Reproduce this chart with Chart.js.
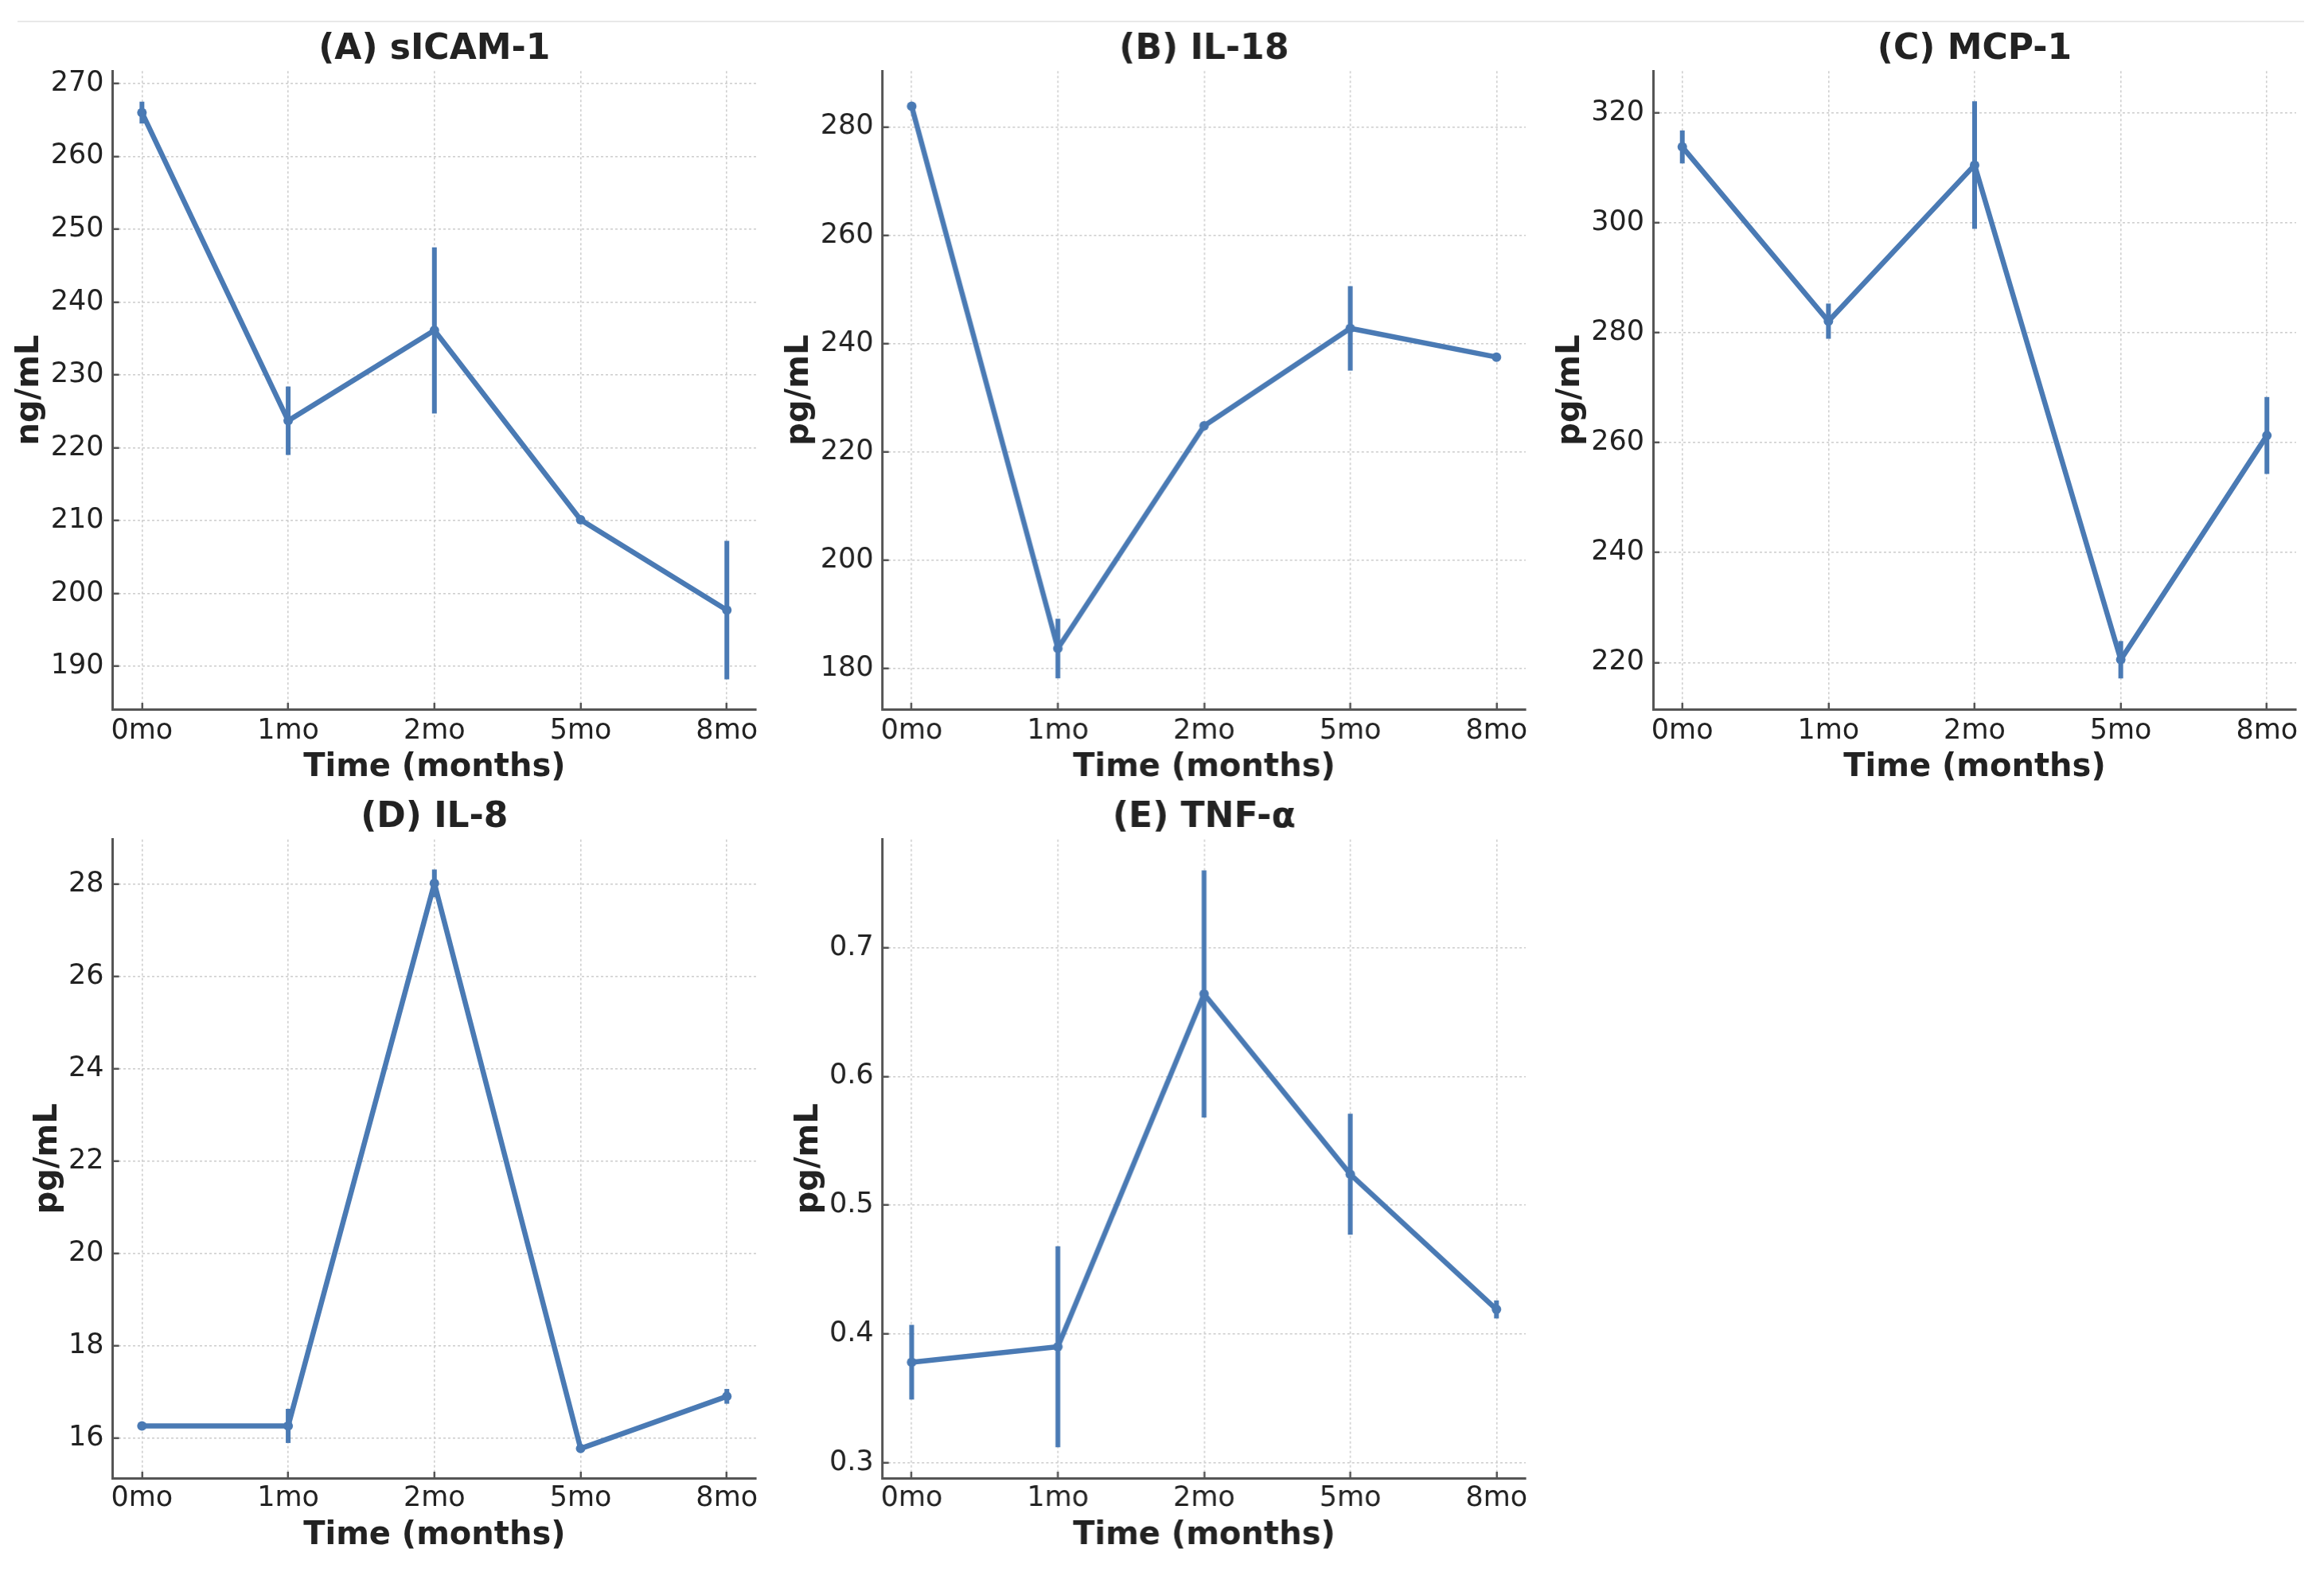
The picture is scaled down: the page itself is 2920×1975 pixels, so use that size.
<!DOCTYPE html>
<html><head><meta charset="utf-8">
<script src="https://cdn.jsdelivr.net/npm/chart.js@4.4.1/dist/chart.umd.min.js"></script>
<style>
html,body{margin:0;padding:0;background:#fff;width:2920px;height:1975px;overflow:hidden;position:relative}
canvas{position:absolute}
#rule{position:absolute;left:22px;top:26px;width:2873px;height:2px;background:#e8e8e8}
</style></head><body>
<div id="rule"></div>
<script>
// ---------- data ----------
const categories = ['0mo', '1mo', '2mo', '5mo', '8mo'];
const xAxisTitle = 'Time (months)';
const panelTitles = ['(A) sICAM-1', '(B) IL-18', '(C) MCP-1', '(D) IL-8', '(E) TNF-α'];
const yAxisTitles = ['ng/mL', 'pg/mL', 'pg/mL', 'pg/mL', 'pg/mL'];

const sicam1Mean = [266.0, 223.7, 236.1, 210.1, 197.7];
const sicam1Err  = [1.5, 4.7, 11.4, 0.3, 9.5];
const il18Mean   = [283.8, 183.7, 224.8, 242.8, 237.5];
const il18Err    = [0.5, 5.5, 0.5, 7.8, 0.5];
const mcp1Mean   = [313.8, 282.1, 310.5, 220.5, 261.3];
const mcp1Err    = [3.0, 3.2, 11.6, 3.4, 7.0];
const il8Mean    = [16.27, 16.27, 28.02, 15.78, 16.91];
const il8Err     = [0.08, 0.37, 0.30, 0.07, 0.16];
const tnfMean    = [0.378, 0.390, 0.664, 0.524, 0.419];
const tnfErr     = [0.029, 0.078, 0.096, 0.047, 0.007];

const sicam1Ticks = [190, 200, 210, 220, 230, 240, 250, 260, 270];
const il18Ticks   = [180, 200, 220, 240, 260, 280];
const mcp1Ticks   = [220, 240, 260, 280, 300, 320];
const il8Ticks    = [16, 18, 20, 22, 24, 26, 28];
const tnfTicks    = [0.3, 0.4, 0.5, 0.6, 0.7];

const yMins = [184.1, 172.5, 211.5, 15.14, 0.288];
const yMaxs = [271.7, 290.3, 327.6, 28.97, 0.784];
const xMin = -0.2, xMax = 4.2;

// ---------- styling / layout ----------
const LINE = '#4a7ab4';
const TEXT = '#222';
const FONT = "'DejaVu Sans', sans-serif";
const rows = [
  {top: 0,   h: 990, chartT: 89.3,   chartB: 891,  titleC: 64.5, xTickC: 918.5,  xTitleC: 965},
  {top: 990, h: 985, chartT: 1054.7, chartB: 1857, titleC: 1027.5, xTickC: 1882.6, xTitleC: 1929.5}
];
const panels = [
  {row: 0, cx0: 0,    chartL: 141.6,  chartR: 950,    yTitleC: 38,     means: sicam1Mean, errs: sicam1Err, ticks: sicam1Ticks},
  {row: 0, cx0: 960,  chartL: 1108.6, chartR: 1916.6, yTitleC: 1004.6, means: il18Mean,   errs: il18Err,   ticks: il18Ticks},
  {row: 0, cx0: 1920, chartL: 2077,   chartR: 2885,   yTitleC: 1974,   means: mcp1Mean,   errs: mcp1Err,   ticks: mcp1Ticks},
  {row: 1, cx0: 0,    chartL: 141.6,  chartR: 950,    yTitleC: 60.6,   means: il8Mean,    errs: il8Err,    ticks: il8Ticks},
  {row: 1, cx0: 960,  chartL: 1108.6, chartR: 1916.6, yTitleC: 1017,   means: tnfMean,    errs: tnfErr,    ticks: tnfTicks}
];

const TITLE_SIZE = 44, LABEL_SIZE = 40, TICK_SIZE = 35, LH = 1.2;

const errorBarPlugin = {
  id: 'errorBars',
  afterDatasetsDraw(chart) {
    const {ctx, scales: {x, y}} = chart;
    const ds = chart.data.datasets[0];
    ctx.save();
    ctx.strokeStyle = LINE;
    ctx.lineWidth = 6;
    ctx.lineCap = 'butt';
    ds.data.forEach((p, i) => {
      const e = ds.errors[i];
      const px = x.getPixelForValue(p.x);
      ctx.beginPath();
      ctx.moveTo(px, y.getPixelForValue(p.y - e));
      ctx.lineTo(px, y.getPixelForValue(p.y + e));
      ctx.stroke();
    });
    ctx.restore();
  }
};

panels.forEach((p, k) => {
  const r = rows[p.row];
  const width = Math.min(p.chartR + 50, 2920) - p.cx0;
  const cv = document.createElement('canvas');
  cv.width = width; cv.height = r.h;
  cv.style.left = p.cx0 + 'px'; cv.style.top = r.top + 'px';
  cv.style.width = width + 'px'; cv.style.height = r.h + 'px';
  document.body.appendChild(cv);

  const yAxisW = p.chartL - p.cx0;
  const padRight = p.cx0 + width - p.chartR;
  const titleH = r.chartT - r.top;
  const tlh = TITLE_SIZE * LH;
  let tTop = r.titleC - r.top - tlh / 2;
  let tBot = titleH - tlh - tTop;
  if (tBot < 0) { tBot = 0; tTop = titleH - tlh; }
  const xAxisH = r.top + r.h - r.chartB;
  const xTickPad = r.xTickC - r.chartB + 8 - TICK_SIZE * LH / 2;
  const xTitlePadB = r.top + r.h - r.xTitleC - LABEL_SIZE * LH / 2;
  const yTitlePadT = p.yTitleC - p.cx0 - LABEL_SIZE * LH / 2;

  const gridCommon = {
    color: '#cfcfcf', lineWidth: 1.6, drawTicks: true, tickLength: -8,
    tickColor: '#555', tickWidth: 2.5, tickBorderDash: []
  };
  const borderCommon = {display: true, color: '#555', width: 3, dash: [3, 3]};

  new Chart(cv, {
    type: 'line',
    data: {
      datasets: [{
        data: p.means.map((v, i) => ({x: i, y: v})),
        errors: p.errs,
        borderColor: LINE, backgroundColor: LINE,
        borderWidth: 6.5, pointRadius: 6, pointBorderWidth: 0,
        pointBackgroundColor: LINE, tension: 0, fill: false
      }]
    },
    options: {
      responsive: false, animation: false, devicePixelRatio: 1,
      layout: {padding: {left: 0, right: padRight, top: 0, bottom: 0}},
      plugins: {
        legend: {display: false}, tooltip: {enabled: false},
        title: {
          display: true, text: panelTitles[k], fullSize: false, color: TEXT,
          font: {family: FONT, size: TITLE_SIZE, weight: 'bold', lineHeight: LH},
          padding: {top: tTop, bottom: tBot}
        }
      },
      scales: {
        x: {
          type: 'linear', min: xMin, max: xMax,
          afterBuildTicks: s => { s.ticks = categories.map((c, i) => ({value: i})); },
          afterFit: s => { s.height = xAxisH; },
          ticks: {
            autoSkip: false, maxRotation: 0, padding: xTickPad, color: TEXT,
            font: {family: FONT, size: TICK_SIZE, lineHeight: LH},
            callback: v => categories[v] ?? ''
          },
          grid: gridCommon, border: borderCommon,
          title: {
            display: true, text: xAxisTitle, color: TEXT,
            font: {family: FONT, size: LABEL_SIZE, weight: 'bold', lineHeight: LH},
            padding: {top: 0, bottom: xTitlePadB}
          }
        },
        y: {
          type: 'linear', min: yMins[k], max: yMaxs[k],
          afterBuildTicks: s => { s.ticks = p.ticks.map(v => ({value: v})); },
          afterFit: s => { s.width = yAxisW; },
          ticks: {
            padding: 19, color: TEXT,
            font: {family: FONT, size: TICK_SIZE, lineHeight: LH},
            callback: v => String(v)
          },
          grid: gridCommon, border: borderCommon,
          title: {
            display: true, text: yAxisTitles[k], color: TEXT,
            font: {family: FONT, size: LABEL_SIZE, weight: 'bold', lineHeight: LH},
            padding: {top: yTitlePadT, bottom: 0}
          }
        }
      }
    },
    plugins: [errorBarPlugin]
  });
});
</script>
</body></html>
